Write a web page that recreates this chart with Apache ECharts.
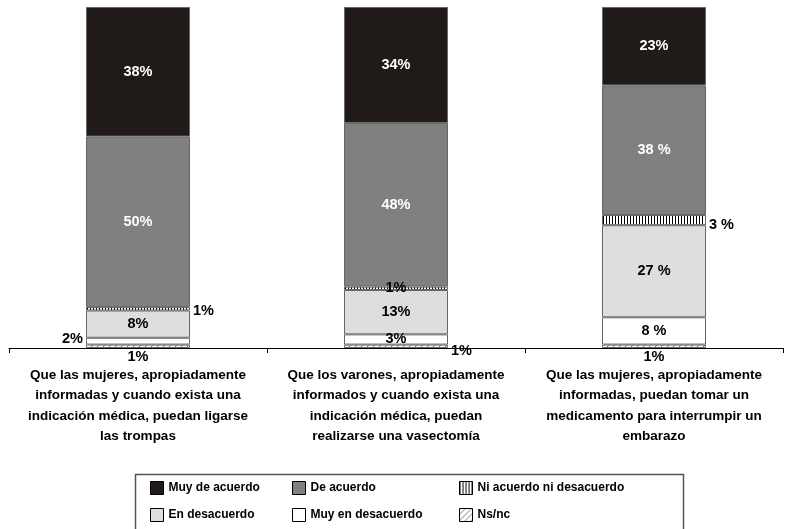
<!DOCTYPE html>
<html>
<head>
<meta charset="utf-8">
<script src="https://cdn.jsdelivr.net/npm/echarts@6/dist/echarts.min.js"></script>
<style>html,body{margin:0;padding:0;background:#fff}#c{width:786px;height:529px}</style>
</head>
<body>
<div id="c"></div>
<script>
// ---- data ----
const categories = [
  'Que las mujeres, apropiadamente\ninformadas y cuando exista una\nindicación médica, puedan ligarse\nlas trompas',
  'Que los varones, apropiadamente\ninformados y cuando exista una\nindicación médica, puedan\nrealizarse una vasectomía',
  'Que las mujeres, apropiadamente\ninformadas, puedan tomar un\nmedicamento para interrumpir un\nembarazo'
];
const seriesNames = ['Ns/nc', 'Muy en desacuerdo', 'En desacuerdo', 'Ni acuerdo ni desacuerdo', 'De acuerdo', 'Muy de acuerdo'];
const nsnc            = [1, 1, 1];
const muyEnDesacuerdo = [2, 3, 8];
const enDesacuerdo    = [8, 13, 27];
const niAcuerdo       = [1, 1, 3];
const deAcuerdo       = [50, 48, 38];
const muyDeAcuerdo    = [38, 34, 23];
const values = [nsnc, muyEnDesacuerdo, enDesacuerdo, niAcuerdo, deAcuerdo, muyDeAcuerdo];
// label text uses a space before % in some cases
const spacedPct = [
  [false, false, false],
  [false, false, true],
  [false, false, true],
  [false, false, true],
  [false, false, true],
  [false, false, false]
];
// legend layout: rows of names
const legendRows = [
  ['Muy de acuerdo', 'De acuerdo', 'Ni acuerdo ni desacuerdo'],
  ['En desacuerdo', 'Muy en desacuerdo', 'Ns/nc']
];

// ---- styling ----
const FONT = '"Liberation Sans", Arial, sans-serif';

function stripePattern() {
  const c = document.createElement('canvas');
  c.width = 3; c.height = 4;
  const g = c.getContext('2d');
  g.fillStyle = '#fff'; g.fillRect(0, 0, 3, 4);
  g.fillStyle = '#000'; g.fillRect(0, 0, 1, 4);
  return c;
}
function hatchPattern() {
  const c = document.createElement('canvas');
  c.width = 6; c.height = 6;
  const g = c.getContext('2d');
  g.fillStyle = '#fff'; g.fillRect(0, 0, 6, 6);
  g.strokeStyle = '#777'; g.lineWidth = 1;
  g.beginPath();
  g.moveTo(-1, 7); g.lineTo(7, -1);
  g.stroke();
  return c;
}

const fills = [
  { image: hatchPattern(), repeat: 'repeat' },
  '#ffffff',
  '#dedede',
  { image: stripePattern(), repeat: 'repeat' },
  '#808080',
  '#201b18'
];
const labelColors = ['#000', '#000', '#000', '#000', '#fff', '#fff'];
// per series, per category: [position, offsetX, offsetY]
const labelPlace = [
  [['bottom', 0, 0], ['right', 0, 5], ['bottom', 0, 0]],
  [['left', 0, -2], ['inside', 0, 0], ['inside', 0, 0]],
  [['inside', 0, 0], ['inside', 0, 0], ['inside', 0, 0]],
  [['right', 0, 2], ['inside', 0, 0], ['right', 0, 5]],
  [['inside', 0, 0], ['inside', 0, 0], ['inside', 0, 0]],
  [['inside', 0, 0], ['inside', 0, 0], ['inside', 0, 0]]
];

const series = seriesNames.map((name, si) => ({
  name: name,
  type: 'bar',
  stack: 'total',
  barWidth: 104,
  itemStyle: { color: fills[si], borderColor: '#666', borderWidth: 1 },
  data: values[si].map((v, ci) => ({
    value: v,
    label: {
      show: true,
      position: labelPlace[si][ci][0],
      offset: [labelPlace[si][ci][1], labelPlace[si][ci][2]],
      distance: labelPlace[si][ci][0] === 'bottom' ? 1 : 3,
      formatter: v + (spacedPct[si][ci] ? ' %' : '%'),
      color: labelColors[si],
      fontFamily: FONT,
      fontWeight: 'bold',
      fontSize: 14.5
    }
  }))
}));

const colLefts = [150, 292, 459];
const rowTops = [481, 508];
const legends = [];
legendRows.forEach((row, ri) => row.forEach((name, ci) => {
  legends.push({
    left: colLefts[ci],
    top: rowTops[ri],
    padding: 0,
    itemWidth: 13,
    itemHeight: 13,
    selectedMode: false,
    icon: 'rect',
    itemStyle: { borderColor: '#000', borderWidth: 1 },
    textStyle: { fontFamily: FONT, fontWeight: 'bold', fontSize: 12, color: '#000' },
    data: [name]
  });
}));

const option = {
  animation: false,
  backgroundColor: '#fff',
  grid: { left: 9, right: 3, top: 7, bottom: 181 },
  xAxis: {
    type: 'category',
    data: categories,
    axisLine: { lineStyle: { color: '#000', width: 1 } },
    axisTick: { show: true, length: 5, lineStyle: { color: '#000' } },
    axisLabel: {
      interval: 0,
      margin: 17,
      color: '#000',
      fontFamily: FONT,
      fontWeight: 'bold',
      fontSize: 13.5,
      lineHeight: 20.5,
      align: 'center'
    }
  },
  yAxis: {
    type: 'value',
    min: 0,
    max: 100,
    show: false
  },
  legend: legends,
  graphic: [{
    type: 'rect',
    shape: { x: 135.5, y: 474.5, width: 548, height: 80 },
    style: { fill: 'none', stroke: '#555', lineWidth: 1.5 },
    z: 0
  }],
  series: series
};

echarts.init(document.getElementById('c')).setOption(option);
</script>
</body>
</html>
